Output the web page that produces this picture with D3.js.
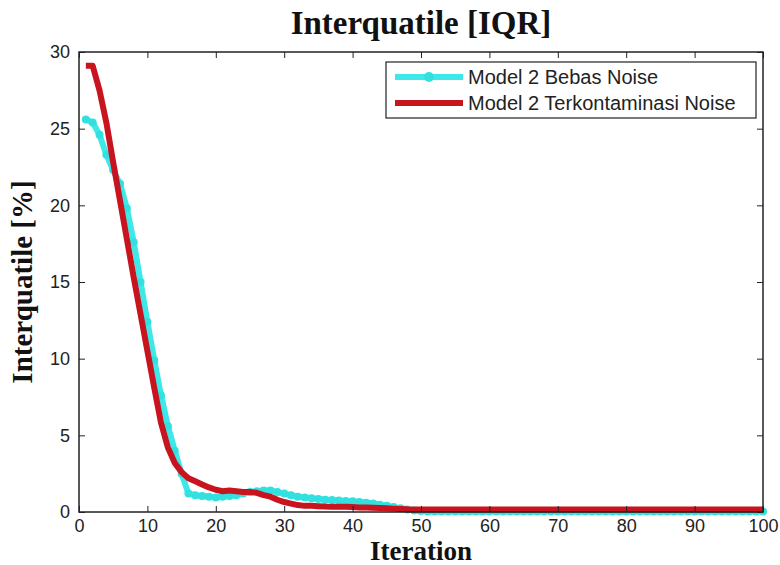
<!DOCTYPE html>
<meta charset="utf-8">
<script src="https://d3js.org/d3.v7.min.js"></script>
<style>
  body { margin: 0; background: #fff; }
</style>
<div id="my_dataviz"></div>
<script>

// iteration 1..100
var iterations = d3.range(1, 101);

var bebasNoise = [
  25.6, 25.4, 24.6, 23.3, 22.3, 21.4, 19.8, 17.6, 15.0, 12.4,
  9.9, 7.6, 5.6, 4.0, 2.5, 1.2, 1.1, 1.05, 1.0, 0.95,
  1.0, 1.05, 1.1, 1.2, 1.3, 1.35, 1.4, 1.4, 1.3, 1.2,
  1.1, 1.0, 0.95, 0.9, 0.85, 0.8, 0.78, 0.75, 0.72, 0.7,
  0.65, 0.6, 0.55, 0.48, 0.4, 0.32, 0.24, 0.16, 0.1, 0.06,
  0.04, 0.04, 0.04, 0.04, 0.04, 0.04, 0.04, 0.04, 0.04, 0.04,
  0.04, 0.04, 0.04, 0.04, 0.04, 0.04, 0.04, 0.04, 0.04, 0.04,
  0.04, 0.04, 0.04, 0.04, 0.04, 0.04, 0.04, 0.04, 0.04, 0.04,
  0.04, 0.04, 0.04, 0.04, 0.04, 0.04, 0.04, 0.04, 0.04, 0.04,
  0.04, 0.04, 0.04, 0.04, 0.04, 0.04, 0.04, 0.04, 0.04, 0.04
];

var terkontaminasiNoise = [
  29.1, 29.1, 27.5, 25.4, 22.8, 20.3, 17.8, 15.3, 12.9, 10.5,
  8.1, 5.8, 4.2, 3.2, 2.6, 2.2, 2.0, 1.8, 1.6, 1.45,
  1.35, 1.4, 1.35, 1.3, 1.3, 1.25, 1.1, 1.0, 0.8, 0.65,
  0.55, 0.45, 0.4, 0.4, 0.38, 0.36, 0.35, 0.35, 0.34, 0.33,
  0.3, 0.3, 0.28, 0.26, 0.24, 0.22, 0.2, 0.18, 0.17, 0.16,
  0.16, 0.16, 0.16, 0.16, 0.16, 0.16, 0.16, 0.16, 0.16, 0.16,
  0.16, 0.16, 0.16, 0.16, 0.16, 0.16, 0.16, 0.16, 0.16, 0.16,
  0.16, 0.16, 0.16, 0.16, 0.16, 0.16, 0.16, 0.16, 0.16, 0.16,
  0.16, 0.16, 0.16, 0.16, 0.16, 0.16, 0.16, 0.16, 0.16, 0.16,
  0.16, 0.16, 0.16, 0.16, 0.16, 0.16, 0.16, 0.16, 0.16, 0.16
];

var xTicks = [0, 10, 20, 30, 40, 50, 60, 70, 80, 90, 100];
var yTicks = [0, 5, 10, 15, 20, 25, 30];
var seriesNames = ["Model 2 Bebas Noise", "Model 2 Terkontaminasi Noise"];

var margin = {top: 52, right: 17, bottom: 53, left: 79},
    width = 780 - margin.left - margin.right,
    height = 565 - margin.top - margin.bottom;

var svg = d3.select("#my_dataviz")
  .append("svg")
    .attr("width", 780)
    .attr("height", 565)
  .append("g")
    .attr("transform", "translate(" + margin.left + "," + margin.top + ")");

var x = d3.scaleLinear().domain([0, 100]).range([0, width]);
var y = d3.scaleLinear().domain([0, 30]).range([height, 0]);

svg.append("clipPath").attr("id", "clip")
  .append("rect").attr("x", -6).attr("y", -6).attr("width", width + 12).attr("height", height + 12);

var line = d3.line()
  .x(function(d, i) { return x(iterations[i]); })
  .y(function(d) { return y(d); });

var plot = svg.append("g").attr("clip-path", "url(#clip)");

// cyan series with dot markers
plot.append("path")
  .datum(bebasNoise)
  .attr("fill", "none")
  .attr("stroke", "#3ee8e8")
  .attr("stroke-width", 6)
  .attr("stroke-linejoin", "round")
  .attr("d", line);

plot.append("g")
  .selectAll("circle")
  .data(bebasNoise)
  .enter()
  .append("circle")
    .attr("cx", function(d, i) { return x(iterations[i]); })
    .attr("cy", function(d) { return y(d); })
    .attr("r", 4)
    .attr("fill", "#33e0e0");

// red series
plot.append("path")
  .datum(terkontaminasiNoise)
  .attr("fill", "none")
  .attr("stroke", "#c8141e")
  .attr("stroke-width", 6)
  .attr("stroke-linejoin", "round")
  .attr("d", line);

// axes, matlab style box with inward ticks
var tickStyle = function(g) {
  g.select(".domain").remove();
  g.selectAll(".tick line").attr("stroke", "#222");
  g.selectAll(".tick text")
    .attr("fill", "#222")
    .style("font-family", "Arial, 'Liberation Sans', sans-serif")
    .style("font-size", "18px");
};

svg.append("g")
  .attr("transform", "translate(0," + height + ")")
  .call(d3.axisBottom(x).tickValues(xTicks).tickSizeInner(-6).tickSizeOuter(0).tickPadding(7))
  .call(tickStyle);

svg.append("g")
  .call(d3.axisTop(x).tickValues(xTicks).tickSizeInner(-6).tickSizeOuter(0).tickFormat(""))
  .call(tickStyle);

svg.append("g")
  .call(d3.axisLeft(y).tickValues(yTicks).tickSizeInner(-6).tickSizeOuter(0).tickPadding(9))
  .call(tickStyle);

svg.append("g")
  .attr("transform", "translate(" + width + ",0)")
  .call(d3.axisRight(y).tickValues(yTicks).tickSizeInner(-6).tickSizeOuter(0).tickFormat(""))
  .call(tickStyle);

svg.append("rect")
  .attr("width", width).attr("height", height)
  .attr("fill", "none")
  .attr("stroke", "#222")
  .attr("stroke-width", 1.5);

// title and labels
svg.append("text")
  .attr("x", width / 2)
  .attr("y", -18)
  .attr("text-anchor", "middle")
  .style("font-family", "'Liberation Serif', 'Times New Roman', serif")
  .style("font-weight", "bold")
  .style("font-size", "33px")
  .attr("fill", "#111")
  .text("Interquatile [IQR]");

svg.append("text")
  .attr("x", width / 2)
  .attr("y", height + 48)
  .attr("text-anchor", "middle")
  .style("font-family", "'Liberation Serif', 'Times New Roman', serif")
  .style("font-weight", "bold")
  .style("font-size", "27px")
  .attr("fill", "#111")
  .text("Iteration");

svg.append("text")
  .attr("transform", "rotate(-90)")
  .attr("x", -height / 2)
  .attr("y", -47)
  .attr("text-anchor", "middle")
  .style("font-family", "'Liberation Serif', 'Times New Roman', serif")
  .style("font-weight", "bold")
  .style("font-size", "29px")
  .attr("fill", "#111")
  .text("Interquatile [%]");

// legend
var legend = svg.append("g").attr("transform", "translate(307,10)");
legend.append("rect")
  .attr("width", 370).attr("height", 56)
  .attr("fill", "#fff")
  .attr("stroke", "#222")
  .attr("stroke-width", 1.2);

var legColors = ["#3ee8e8", "#c8141e"];
seriesNames.forEach(function(name, i) {
  var ly = 15 + i * 26;
  legend.append("line")
    .attr("x1", 9).attr("x2", 77)
    .attr("y1", ly).attr("y2", ly)
    .attr("stroke", legColors[i])
    .attr("stroke-width", 6);
  if (i === 0) {
    legend.append("circle").attr("cx", 43).attr("cy", ly).attr("r", 5).attr("fill", "#33e0e0");
  }
  legend.append("text")
    .attr("x", 82).attr("y", ly)
    .attr("dy", "0.35em")
    .style("font-family", "Arial, 'Liberation Sans', sans-serif")
    .style("font-size", "20px")
    .attr("fill", "#222")
    .text(name);
});

</script>
